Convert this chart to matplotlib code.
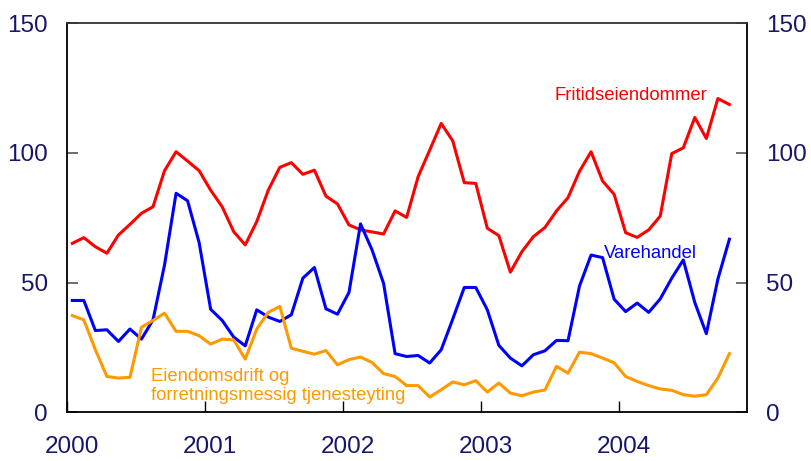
import numpy as np
import matplotlib
matplotlib.use("Agg")
import matplotlib.pyplot as plt
from matplotlib.transforms import ScaledTranslation

plt.rcParams['font.family'] = ['Liberation Sans', 'DejaVu Sans']

# monthly series, Jan 2000 - Oct 2004
fritid = [65.1, 67.3, 63.8, 61.3, 68.3, 72.4, 76.7, 79.2, 93.1, 100.4, 96.8, 93.1,
          85.6, 79.2, 69.6, 64.5, 73.5, 85.6, 94.4, 96.2, 91.7, 93.3, 83.3, 80.3,
          72.2, 70.3, 69.5, 68.7, 77.6, 75.1, 90.8, 101.0, 111.3, 104.6, 88.5, 88.2,
          70.9, 68.1, 54.0, 61.9, 67.7, 71.2, 77.6, 82.7, 92.9, 100.4, 89.1, 84.0,
          69.2, 67.4, 70.3, 75.6, 99.7, 101.9, 113.6, 105.5, 120.9, 118.6]
varehandel = [43.1, 43.1, 31.5, 31.8, 27.3, 32.1, 28.2, 35.6, 56.8, 84.4, 81.5, 65.4,
              39.7, 35.4, 29.0, 25.6, 39.5, 36.7, 35.0, 37.6, 51.7, 55.8, 39.9, 37.8,
              46.2, 72.6, 62.6, 49.7, 22.6, 21.5, 21.9, 19.0, 24.1, 35.9, 48.1, 48.1,
              39.5, 25.8, 20.9, 17.9, 22.2, 23.7, 27.7, 27.6, 48.7, 60.6, 59.6, 43.6,
              38.8, 42.1, 38.5, 43.7, 51.7, 58.7, 42.3, 30.3, 51.3, 66.7]
eiendom = [37.3, 35.6, 24.1, 13.8, 13.2, 13.5, 32.8, 35.4, 38.2, 31.2, 31.2, 29.5,
           26.3, 28.2, 27.9, 20.5, 32.1, 38.5, 40.8, 24.7, 23.5, 22.4, 23.8, 18.3,
           20.3, 21.3, 19.2, 14.9, 13.8, 10.3, 10.3, 5.9, 8.7, 11.7, 10.6, 12.2,
           7.8, 11.3, 7.4, 6.4, 7.8, 8.6, 17.7, 15.1, 23.2, 22.6, 20.9, 19.1,
           13.8, 11.9, 10.3, 9.0, 8.5, 6.8, 6.2, 6.8, 13.2, 22.6]
years = ["2000", "2001", "2002", "2003", "2004"]
yticks = [0, 50, 100, 150]

months = np.arange(len(fritid))
navy = '#16166a'

fig = plt.figure(figsize=(8.11, 4.61), dpi=100)
ax = fig.add_axes([0.0832, 0.1056, 0.8375, 0.8445])

ax.plot(months, fritid, color='#ff0000', lw=2.2)
ax.plot(months, varehandel, color='#0000ff', lw=2.2)
ax.plot(months, eiendom, color='#ff9900', lw=2.2)

ax.set_xlim(-0.42, 58.5)
ax.set_ylim(0, 150)

# year ticks at the start of each year
ax.set_xticks(np.arange(5) * 11.97 - 0.42)
ax.set_xticklabels(years)
ax.set_yticks(yticks)

ax.tick_params(axis='x', direction='in', length=8, width=1, color='black',
               labelsize=17.5, labelcolor=navy, pad=17)
ax.tick_params(axis='y', direction='in', length=8, width=1.2, color='#555555',
               labelsize=17.5, labelcolor=navy, pad=14, right=True, labelright=True)
for lab in ax.get_xticklabels():
    lab.set_transform(lab.get_transform() + ScaledTranslation(0.045, 0, fig.dpi_scale_trans))

for s in ax.spines.values():
    s.set_linewidth(1.3)
    s.set_color('black')
ax.spines['top'].set_color('#333333')

ax.text(41.8, 122.0, "Fritidseiendommer", color='#ff0000', fontsize=13.3,
        ha='left', va='center')
ax.text(46.1, 61.0, "Varehandel", color='#0000ff', fontsize=13.3,
        ha='left', va='center')
ax.text(6.83, 10.2, "Eiendomsdrift og\nforretningsmessig tjenesteyting",
        color='#ff9900', fontsize=13.3, ha='left', va='center')

fig.savefig("out.png", dpi=100)
